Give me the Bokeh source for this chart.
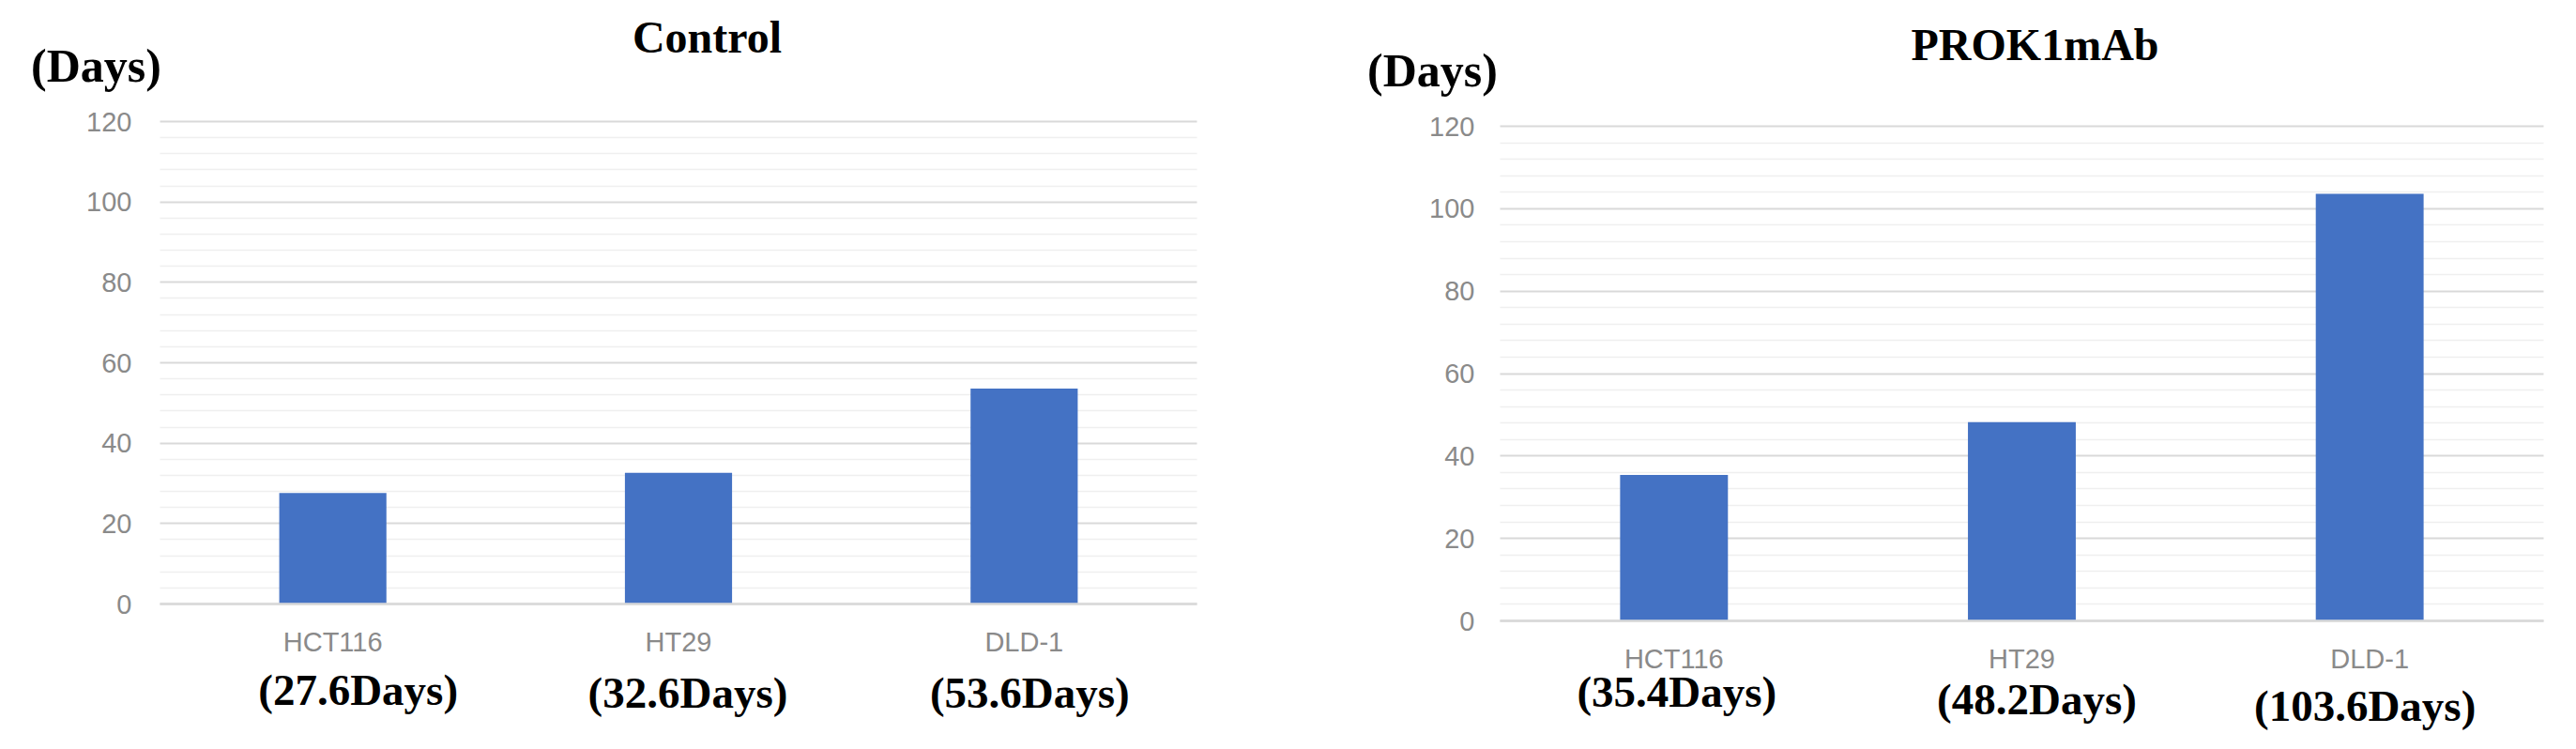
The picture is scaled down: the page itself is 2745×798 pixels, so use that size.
from bokeh.plotting import figure
from bokeh.layouts import row
from bokeh.models import Range1d, FixedTicker, Label, Grid
from bokeh.embed import file_html
from bokeh.resources import INLINE

# ---------------- data ----------------
cell_lines = ["HCT116", "HT29", "DLD-1"]
control_days = [27.6, 32.6, 53.6]
prok1mab_days = [35.4, 48.2, 103.6]
panel_titles = ["Control", "PROK1mAb"]
y_axis_unit = "(Days)"
y_major = [0, 20, 40, 60, 80, 100, 120]
y_minor = [v for v in range(0, 121, 4) if v % 20]

# ---------------- style ----------------
BAR = "#4472c4"
SERIF = "Liberation Serif"
SANS = "Liberation Sans"
TICK_COLOR = "#8a8a8a"
HAS_CROSS = "cross_bounds" in Grid.properties()
RISE = 0.33  # baseline correction, fraction of font size


def make_panel(title, values, fig, plot, title_px, unit_px, ann_base_px,
               ann_dx, ytick_standoff):
    """fig: page box of the figure; plot: page-pixel box of the 0..N x 0..120 area."""
    n = len(cell_lines)
    kx = (plot["right"] - plot["left"]) / n
    ky = (plot["bottom"] - plot["top"]) / 120.0
    to_x = lambda px: (px - plot["left"]) / kx
    to_y = lambda py: (plot["bottom"] - py) / ky

    p = figure(x_range=Range1d(to_x(fig["x0"]), to_x(fig["x0"] + fig["w"])),
               y_range=Range1d(to_y(fig["y0"] + fig["h"]), to_y(fig["y0"])),
               width=fig["w"], height=fig["h"],
               min_border_left=0, min_border_right=0,
               min_border_top=0, min_border_bottom=0,
               output_backend="svg", toolbar_location=None,
               outline_line_color=None)

    xs = [i + 0.5 for i in range(n)]

    yg = p.ygrid[0]
    yg.ticker = FixedTicker(ticks=y_major, minor_ticks=y_minor)
    yg.grid_line_color = "#d9d9d9"
    yg.grid_line_width = 2
    yg.minor_grid_line_color = "#efefef"
    yg.minor_grid_line_width = 1.5
    if HAS_CROSS:
        yg.cross_bounds = (0, n)
    else:
        yg.visible = False
        p.segment(x0=0, x1=n, y0=y_minor, y1=y_minor, line_color="#efefef", line_width=1.5)
        p.segment(x0=0, x1=n, y0=y_major[1:], y1=y_major[1:], line_color="#d9d9d9", line_width=2)
    p.xgrid.grid_line_color = None

    p.vbar(x=xs, top=values, width=0.31, fill_color=BAR, line_color=None)

    # y axis drawn at x=0 inside the canvas
    yax = p.yaxis[0]
    yax.fixed_location = 0
    yax.bounds = (0, 120)
    yax.ticker = FixedTicker(ticks=y_major, minor_ticks=y_minor)
    yax.axis_line_color = None
    yax.major_tick_line_color = None
    yax.minor_tick_line_color = None
    yax.major_label_text_font = SANS
    yax.major_label_text_font_size = "29px"
    yax.major_label_text_color = TICK_COLOR
    yax.major_label_standoff = ytick_standoff

    # x axis drawn at y=0
    xax = p.xaxis[0]
    xax.fixed_location = 0
    xax.bounds = (0, n)
    xax.ticker = FixedTicker(ticks=xs)
    xax.major_label_overrides = {x: c for x, c in zip(xs, cell_lines)}
    xax.axis_line_color = "#d9d9d9"
    xax.axis_line_width = 2.5
    xax.major_tick_line_color = None
    xax.minor_tick_line_color = None
    xax.major_label_text_font = SANS
    xax.major_label_text_font_size = "29px"
    xax.major_label_text_color = TICK_COLOR
    xax.major_label_standoff = 18

    def label(x, base_py, text, size, dx=0):
        p.add_layout(Label(x=x, y=to_y(base_py - RISE * size), x_offset=dx,
                           text=text, text_align="center",
                           text_baseline="alphabetic",
                           text_font=SERIF, text_font_size=f"{size}px",
                           text_font_style="bold", text_color="black"))

    label(to_x(title_px[0]), title_px[1], title, 48)
    label(to_x(unit_px[0]), unit_px[1], y_axis_unit, 50)
    for x, v, by, dx in zip(xs, values, ann_base_px, ann_dx):
        label(x, by, f"({v}Days)", 47, dx)
    return p


p1 = make_panel(panel_titles[0], control_days,
                fig=dict(x0=0, y0=0, w=1388, h=794),
                plot=dict(left=170, right=1275, top=129, bottom=643),
                title_px=(753, 55), unit_px=(102, 86),
                ann_base_px=[750, 753, 753], ann_dx=[27, 10, 6],
                ytick_standoff=24)

p2 = make_panel(panel_titles[1], prok1mab_days,
                fig=dict(x0=1388, y0=0, w=1352, h=794),
                plot=dict(left=1598, right=2710, top=134, bottom=661),
                title_px=(2168, 63), unit_px=(1526, 91),
                ann_base_px=[752, 760, 767], ann_dx=[3, 16, -5],
                ytick_standoff=21)

layout = row(p1, p2)
open("out.html", "w").write(file_html(layout, INLINE))
